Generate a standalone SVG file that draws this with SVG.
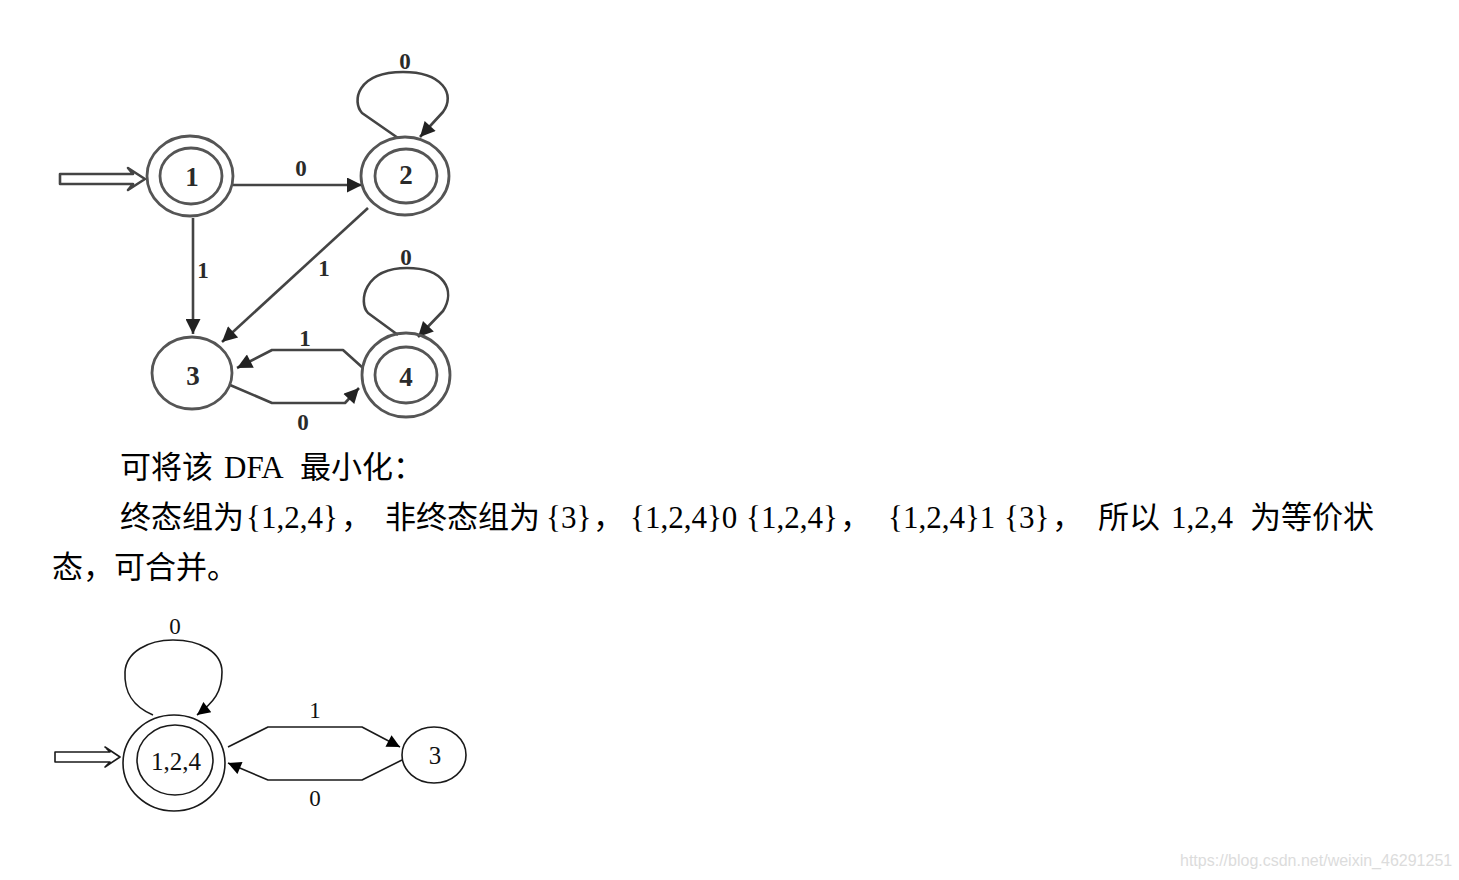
<svg xmlns="http://www.w3.org/2000/svg" width="1459" height="880" viewBox="0 0 1459 880">
<defs>
<style>
.st1{fill:none;stroke:#555;stroke-width:2.8}
.e1{fill:none;stroke:#444;stroke-width:2.6;stroke-linejoin:round}
.st2{fill:none;stroke:#1a1a1a;stroke-width:1.6}
.e2{fill:none;stroke:#1a1a1a;stroke-width:1.6;stroke-linejoin:round}
.nl1{font-family:"Liberation Serif",serif;font-weight:bold;font-size:27px;fill:#2a2a2a;text-anchor:middle}
.el1{font-family:"Liberation Serif",serif;font-weight:bold;font-size:23px;fill:#2a2a2a;text-anchor:middle}
.nl2{font-family:"Liberation Serif",serif;font-size:25px;fill:#111;text-anchor:middle}
.el2{font-family:"Liberation Serif",serif;font-size:23px;fill:#111;text-anchor:middle}
.body{font-family:"Liberation Serif","Noto Sans CJK SC",serif;font-size:31px;fill:#000}
.wm{font-family:"Liberation Sans",Arial,sans-serif;font-size:16px;fill:#dcdcdc}
</style>
<marker id="ah1" viewBox="0 0 10 10" refX="10" refY="5" markerWidth="17" markerHeight="15" markerUnits="userSpaceOnUse" orient="auto"><path d="M0,0 L10,5 L0,10 z" fill="#222"/></marker>
<marker id="ah2" viewBox="0 0 10 10" refX="10" refY="5" markerWidth="15" markerHeight="13" markerUnits="userSpaceOnUse" orient="auto"><path d="M0,0 L10,5 L0,10 z" fill="#000"/></marker>
</defs>
<rect width="1459" height="880" fill="#fff"/>

<!-- Top DFA -->
<g id="connectors-top">
<path class="e1" d="M60,174 H133 L128,168 L145,179 L128,190 L133,184 H60 Z" fill="#fff"/>
<path class="e1" d="M233,185 L362,185" marker-end="url(#ah1)"/>
<path class="e1" d="M193,218 L193,334" marker-end="url(#ah1)"/>
<path class="e1" d="M368,208 L222,342" marker-end="url(#ah1)"/>
<path class="e1" d="M363,368 L343,350 L272,350 L237,368" marker-end="url(#ah1)"/>
<path class="e1" d="M230,385 L272,403 L345,403 L359,388" marker-end="url(#ah1)"/>
<path class="e1" d="M398,138 L362,113 C352,102 356,72 403,72 C442,72 456,94 443,112 L420,137" marker-end="url(#ah1)"/>
<path class="e1" d="M398,335 L368,313 C358,302 364,268 407,268 C444,268 456,290 443,311 L418,337" marker-end="url(#ah1)"/>
<text class="el1" x="301" y="176">0</text>
<text class="el1" x="203" y="278">1</text>
<text class="el1" x="324" y="276">1</text>
<text class="el1" x="405" y="69">0</text>
<text class="el1" x="406" y="265">0</text>
<text class="el1" x="305" y="346">1</text>
<text class="el1" x="303" y="430">0</text>
</g>
<g id="node-1">
<ellipse class="st1" cx="190" cy="176" rx="43" ry="40"/>
<ellipse class="st1" cx="191" cy="176" rx="31" ry="28"/>
<text class="nl1" x="192" y="186">1</text>
</g>
<g id="node-2">
<ellipse class="st1" cx="405" cy="176" rx="44" ry="39"/>
<ellipse class="st1" cx="406" cy="176" rx="31" ry="27"/>
<text class="nl1" x="406" y="184">2</text>
</g>
<g id="node-3">
<ellipse class="st1" cx="192" cy="373" rx="40" ry="36"/>
<text class="nl1" x="193" y="385">3</text>
</g>
<g id="node-4">
<ellipse class="st1" cx="406" cy="375" rx="44" ry="42"/>
<ellipse class="st1" cx="406" cy="375" rx="31" ry="28"/>
<text class="nl1" x="406" y="386">4</text>
</g>

<!-- Text -->
<g id="text">
<text class="body" y="478"><tspan x="120">可将该</tspan><tspan x="224">DFA</tspan><tspan x="300">最小化：</tspan></text>
<text class="body" y="528"><tspan x="120">终态组为</tspan><tspan x="246">{1,2,4}</tspan><tspan x="341">，</tspan><tspan x="385">非终态组为</tspan><tspan x="546">{3}</tspan><tspan x="593">，</tspan><tspan x="630">{1,2,4}0</tspan><tspan x="746">{1,2,4}</tspan><tspan x="840">，</tspan><tspan x="888">{1,2,4}1</tspan><tspan x="1004">{3}</tspan><tspan x="1052">，</tspan><tspan x="1098">所以</tspan><tspan x="1171">1,2,4</tspan><tspan x="1250">为等价状</tspan></text>
<text class="body" x="52" y="578">态，可合并。</text>
</g>

<!-- Bottom DFA -->
<g id="connectors-bottom">
<path class="e2" d="M55,752 H110 L105,747 L120,757 L105,767 L110,762 H55 Z" fill="#fff"/>
<path class="e2" d="M153,715 C132,706 124,692 125,672 C126,652 148,640 173,640 C200,640 222,652 222,672 C222,692 214,702 197,715" marker-end="url(#ah2)"/>
<path class="e2" d="M228,747 L268,727 L362,727 L400,747" marker-end="url(#ah2)"/>
<path class="e2" d="M402,760 L362,780 L268,780 L228,763" marker-end="url(#ah2)"/>
<text class="el2" x="175" y="634">0</text>
<text class="el2" x="315" y="718">1</text>
<text class="el2" x="315" y="806">0</text>
</g>
<g id="node-124">
<ellipse class="st2" cx="174" cy="763" rx="51" ry="48"/>
<ellipse class="st2" cx="175" cy="760" rx="38" ry="35"/>
<text class="nl2" x="176" y="770">1,2,4</text>
</g>
<g id="node-3b">
<ellipse class="st2" cx="434" cy="755" rx="32" ry="28"/>
<text class="nl2" x="435" y="764">3</text>
</g>

<text class="wm" x="1180" y="866">https://blog.csdn.net/weixin_46291251</text>
</svg>
